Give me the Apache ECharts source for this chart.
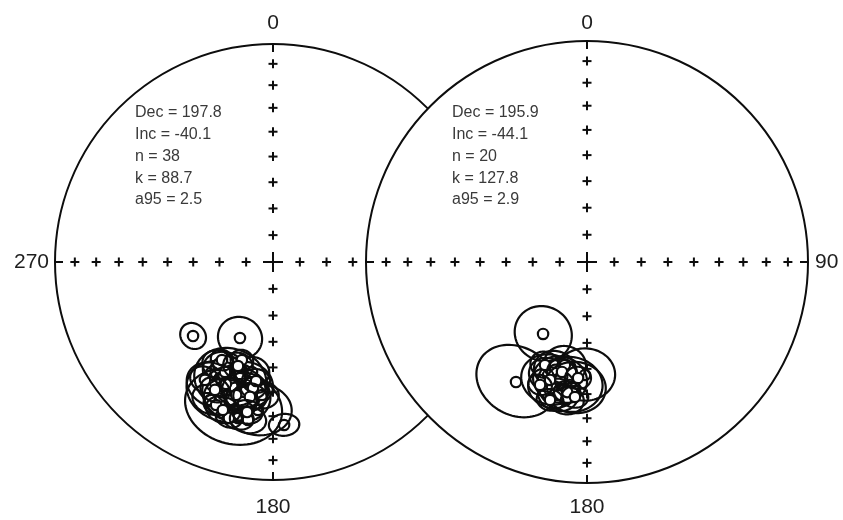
<!DOCTYPE html>
<html>
<head>
<meta charset="utf-8">
<title>Site mean directions – equal-area projections</title>
<script src="https://cdn.jsdelivr.net/npm/echarts@6/dist/echarts.min.js"></script>
<style>
  html, body { margin: 0; padding: 0; background: #ffffff; }
  #chart { width: 843px; height: 520px; }
</style>
</head>
<body>
<div id="chart"></div>
<script>
// ---- Site directions: declination, inclination (deg), a95 (deg) ----
const leftDec = [227.2, 203.5, 176.1, 195.3, 200.0, 201.4, 192.4, 202.2, 195.9, 204.6,
                 197.1, 204.5, 192.1, 196.8, 201.1, 190.8, 208.1, 192.6, 184.7, 185.8,
                 206.4, 197.3, 192.2, 203.6, 195.5, 201.7, 197.6, 210.0, 189.0, 195.8,
                 207.5, 189.0, 188.1, 189.7, 198.7, 189.8, 198.6, 204.4];
const leftInc = [-48.6, -58.8, -26.0, -31.2, -41.9, -36.1, -41.8, -44.6, -43.9, -41.1,
                 -36.3, -31.1, -34.6, -39.5, -39.8, -47.4, -45.5, -27.5, -38.7, -32.3,
                 -37.1, -34.1, -38.9, -44.2, -36.8, -30.1, -51.0, -37.6, -41.1, -26.6,
                 -48.0, -27.5, -44.1, -37.3, -29.1, -30.8, -48.3, -35.8];
const leftA95 = [4.8, 8.0, 4.8, 16.0, 12.5, 12.2, 9.2, 6.2, 5.6, 5.2,
                 6.0, 6.0, 5.2, 7.2, 4.6, 6.0, 5.6, 5.0, 5.6, 11.0,
                 8.8, 8.8, 7.8, 7.8, 11.5, 4.2, 4.0, 5.2, 4.2, 4.2,
                 4.0, 5.8, 4.8, 5.6, 5.6, 5.0, 5.2, 5.0];

const rightDec = [211.4, 210.6, 181.0, 196.5, 192.9, 199.0, 192.1, 195.5, 187.9, 202.2,
                  192.3, 192.8, 185.4, 197.4, 188.7, 188.7, 195.0, 200.9, 184.4, 185.1];
const rightInc = [-58.7, -37.0, -47.6, -47.8, -44.4, -45.0, -50.6, -40.5, -43.2, -48.3,
                  -38.3, -47.7, -42.2, -43.4, -36.9, -40.2, -35.6, -40.2, -46.3, -38.6];
const rightA95 = [10.3, 13.9, 10.3, 7.3, 9.2, 6.6, 7.3, 8.1, 11.0, 5.1,
                  6.6, 5.1, 10.3, 9.9, 5.9, 4.4, 4.4, 4.0, 4.4, 4.4];

// ---- Fisher statistics printed on each net ----
const leftStats  = ['Dec = 197.8', 'Inc = -40.1', 'n = 38', 'k = 88.7', 'a95 = 2.5'];
const rightStats = ['Dec = 195.9', 'Inc = -44.1', 'n = 20', 'k = 127.8', 'a95 = 2.9'];

// ---- Net graticule: inclination ticks and cardinal labels (N, E, S, W) ----
const tickIncs = [10, 20, 30, 40, 50, 60, 70, 80];
const cardinalAz = [0, 90, 180, 270];
const leftCardinalLabels  = ['0', '', '180', '270'];
const rightCardinalLabels = ['0', '90', '180', ''];

const DEG = Math.PI / 180;
const INK = '#0d0d0d';

// Lambert equal-area (Schmidt) projection; unit radius = horizontal plane
function project(dec, inc) {
  const d = dec * DEG, i = Math.abs(inc) * DEG;
  const r = Math.SQRT2 * Math.sin((Math.PI / 2 - i) / 2);
  return [r * Math.sin(d), r * Math.cos(d)];
}

// Small circle of radius a95 around a direction, projected on the same hemisphere
function coneOutline(dec, inc, a95) {
  const d = dec * DEG, i = Math.abs(inc) * DEG, a = a95 * DEG;
  const m = [Math.cos(i) * Math.cos(d), Math.cos(i) * Math.sin(d), Math.sin(i)]; // north, east, up
  const u = [-Math.sin(d), Math.cos(d), 0];
  const v = [m[1] * u[2] - m[2] * u[1], m[2] * u[0] - m[0] * u[2], m[0] * u[1] - m[1] * u[0]];
  const pts = [];
  const N = 90;
  for (let k = 0; k < N; k++) {
    const t = 2 * Math.PI * k / N;
    const p = [0, 1, 2].map(j => Math.cos(a) * m[j] + Math.sin(a) * (Math.cos(t) * u[j] + Math.sin(t) * v[j]));
    const h = Math.hypot(p[0], p[1]);
    const s = h > 0 ? Math.sqrt(Math.max(0, 1 - p[2])) / h : 0;
    pts.push([p[1] * s, p[0] * s]);
  }
  return pts;
}

function netSeries(gi, labels, z) {
  return {
    type: 'custom', coordinateSystem: 'cartesian2d',
    xAxisIndex: gi, yAxisIndex: gi, z: z, silent: true,
    data: [[0, 0]],
    renderItem: function (params, api) {
      const c = api.coord([0, 0]);
      const R = api.coord([1, 0])[0] - c[0];
      const children = [{
        type: 'circle', shape: { cx: c[0], cy: c[1], r: R },
        style: { fill: '#ffffff', stroke: INK, lineWidth: 2 }
      }];
      const line = (x1, y1, x2, y2, w) => children.push({
        type: 'line', shape: { x1: x1, y1: y1, x2: x2, y2: y2 },
        style: { stroke: INK, lineWidth: w || 2 }
      });
      cardinalAz.forEach((az, k) => {
        tickIncs.forEach(inc => {
          const p = api.coord(project(az, inc));
          line(p[0] - 4.5, p[1], p[0] + 4.5, p[1]);
          line(p[0], p[1] - 4.5, p[0], p[1] + 4.5);
        });
        const e = api.coord(project(az, 0));
        const ux = Math.sin(az * DEG), uy = -Math.cos(az * DEG);
        line(e[0], e[1], e[0] - ux * 8, e[1] - uy * 8);
        if (labels[k]) {
          let x = e[0], y = e[1], align = 'center';
          if (az === 0) { y = c[1] - 239; }
          else if (az === 180) { y = c[1] + 245; }
          else if (az === 90) { x += 7; align = 'left'; }
          else { x -= 6; align = 'right'; }
          children.push({
            type: 'text', x: x, y: y,
            style: {
              text: labels[k], fill: '#1e1e1e',
              font: '21px "Liberation Sans", Arial, sans-serif',
              align: align, verticalAlign: 'middle',
              textAlign: align, textVerticalAlign: 'middle'
            }
          });
        }
      });
      line(c[0] - 10, c[1], c[0] + 10, c[1]);
      line(c[0], c[1] - 10, c[0], c[1] + 10);
      return { type: 'group', children: children };
    }
  };
}

function siteSeries(gi, dec, inc, a95, z) {
  return {
    type: 'custom', coordinateSystem: 'cartesian2d',
    xAxisIndex: gi, yAxisIndex: gi, z: z, silent: true,
    data: dec.map((d, k) => [d, inc[k], a95[k]]),
    renderItem: function (params, api) {
      const d = api.value(0), i = api.value(1), a = api.value(2);
      const pts = coneOutline(d, i, a).map(p => api.coord(p));
      const m = api.coord(project(d, i));
      return {
        type: 'group',
        children: [
          { type: 'polygon', shape: { points: pts },
            style: { fill: 'none', stroke: INK, lineWidth: 2.2 } },
          { type: 'circle', shape: { cx: m[0], cy: m[1], r: 5.2 },
            style: { fill: '#ffffff', stroke: INK, lineWidth: 2.2 } }
        ]
      };
    }
  };
}

function statsText(lines, x, y0) {
  return lines.map((t, k) => ({
    type: 'text', x: x, y: y0 + k * 21.75, z: 100,
    style: {
      text: t, fill: '#3a3a3a',
      font: '16px "Liberation Sans", Arial, sans-serif',
      align: 'left', verticalAlign: 'middle',
      textAlign: 'left', textVerticalAlign: 'middle'
    }
  }));
}

const axisOff = { type: 'value', min: -1, max: 1, show: false };

const chart = echarts.init(document.getElementById('chart'), null, { renderer: 'canvas' });
chart.setOption({
  animation: false,
  backgroundColor: '#ffffff',
  grid: [
    { left: 55, top: 44, width: 436, height: 436 },
    { left: 366, top: 41, width: 442, height: 442 }
  ],
  xAxis: [Object.assign({ gridIndex: 0 }, axisOff), Object.assign({ gridIndex: 1 }, axisOff)],
  yAxis: [Object.assign({ gridIndex: 0 }, axisOff), Object.assign({ gridIndex: 1 }, axisOff)],
  series: [
    netSeries(0, leftCardinalLabels, 1),
    siteSeries(0, leftDec, leftInc, leftA95, 2),
    netSeries(1, rightCardinalLabels, 3),
    siteSeries(1, rightDec, rightInc, rightA95, 4)
  ],
  graphic: statsText(leftStats, 135, 113).concat(statsText(rightStats, 452, 113))
});
</script>
</body>
</html>
